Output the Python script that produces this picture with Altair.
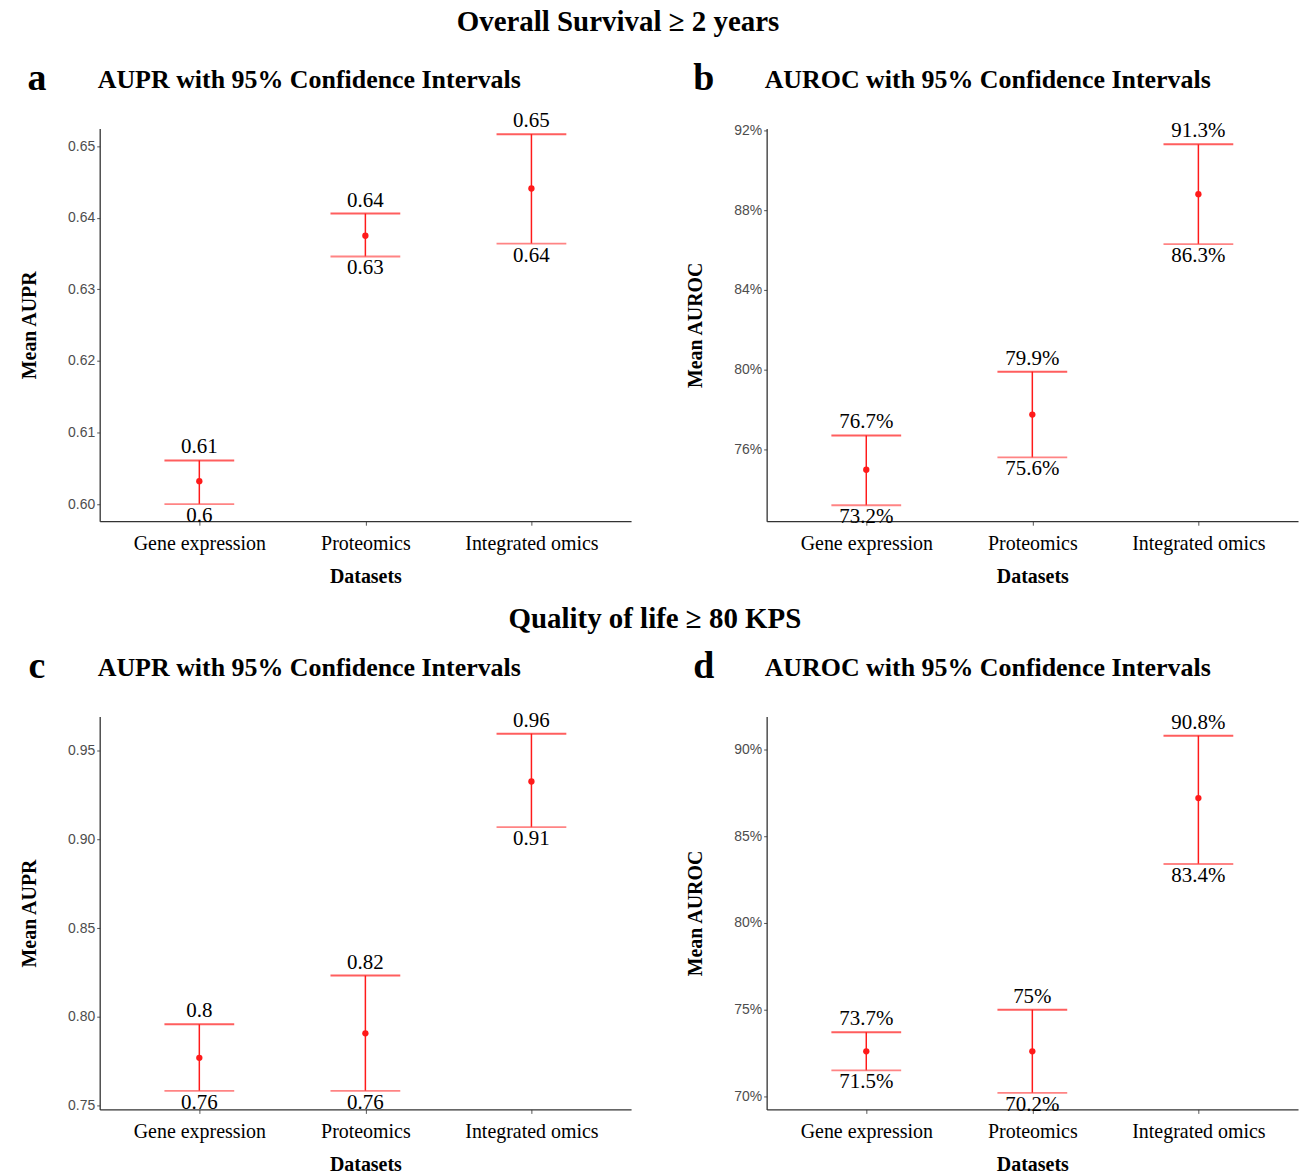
import altair as alt
import pandas as pd

# ---------------- data ----------------
datasets = ["Gene expression", "Proteomics", "Integrated omics"]

os_aupr_mean = [0.6032, 0.6375, 0.6441]
os_aupr_lo = [0.6000, 0.6346, 0.6364]
os_aupr_hi = [0.6061, 0.6406, 0.6517]

os_auroc_mean = [0.7498, 0.7775, 0.8880]
os_auroc_lo = [0.7320, 0.7560, 0.8630]
os_auroc_hi = [0.7670, 0.7990, 0.9130]

qol_aupr_mean = [0.7770, 0.7908, 0.9325]
qol_aupr_lo = [0.7584, 0.7584, 0.9068]
qol_aupr_hi = [0.7959, 0.8233, 0.9594]

qol_auroc_mean = [0.7260, 0.7260, 0.8720]
qol_auroc_lo = [0.7150, 0.7020, 0.8340]
qol_auroc_hi = [0.7370, 0.7500, 0.9080]

os_aupr_ticks = [0.60, 0.61, 0.62, 0.63, 0.64, 0.65]
os_auroc_ticks = [0.76, 0.80, 0.84, 0.88, 0.92]
qol_aupr_ticks = [0.75, 0.80, 0.85, 0.90, 0.95]
qol_auroc_ticks = [0.70, 0.75, 0.80, 0.85, 0.90]

SERIF = "Liberation Serif, Times New Roman, serif"
SANS = "Liberation Sans Narrow, Liberation Sans, Arial, sans-serif"
RED = "#ff1a1a"


def lab_num(v):
    return f"{round(v, 2):g}"


def lab_pct(v):
    return f"{round(v * 100, 1):g}%"


def panel(means, lo, hi, title, ytitle, domain, ticks, fmt, labf, letter):
    df = pd.DataFrame({
        "dataset": datasets,
        "mean": means,
        "lo": lo,
        "hi": hi,
        "lo_label": [labf(v) for v in lo],
        "hi_label": [labf(v) for v in hi],
    })
    xaxis = alt.Axis(title="Datasets", labelAngle=0,
                     labelFont=SERIF, labelFontSize=20,
                     labelColor="black", labelPadding=8,
                     titleFont=SERIF, titleFontSize=20,
                     titleFontWeight="bold", titlePadding=13,
                     tickSize=4, tickColor="#555",
                     domainColor="#333", domainWidth=1.3)
    yaxis = alt.Axis(title=ytitle, values=ticks, format=fmt,
                     labelFont=SANS, labelFontSize=14,
                     labelColor="#4d4d4d", labelPadding=2,
                     tickSize=3, tickColor="#555",
                     titleFont=SERIF, titleFontSize=20,
                     titleFontWeight="bold", titleColor="black",
                     titlePadding=28,
                     domainColor="#333", domainWidth=1.3)
    xenc = alt.X("dataset:N", sort=datasets,
                 scale=alt.Scale(type="point", padding=0.6), axis=xaxis)
    yscale = alt.Scale(domain=domain, nice=False, zero=False)

    def Y(f):
        return alt.Y(f, type="quantitative", scale=yscale, axis=yaxis)

    base = alt.Chart(df)
    rule = base.mark_rule(color=RED, strokeWidth=1.5).encode(
        x=xenc, y=Y("lo"), y2="hi:Q")
    cap_hi = base.mark_tick(color=RED, size=70, thickness=2).encode(
        x=xenc, y=Y("hi"))
    cap_lo = base.mark_tick(color="#ff5050", size=70, thickness=1.8).encode(
        x=xenc, y=Y("lo"))
    pt = base.mark_circle(color=RED, size=40, opacity=1).encode(
        x=xenc, y=Y("mean"))
    t_hi = base.mark_text(font=SERIF, fontSize=21, baseline="bottom",
                          dy=-3, color="black").encode(
        x=xenc, y=Y("hi"), text="hi_label:N")
    t_lo = base.mark_text(font=SERIF, fontSize=21, baseline="top",
                          dy=1, color="black").encode(
        x=xenc, y=Y("lo"), text="lo_label:N")
    head = alt.Chart(pd.DataFrame({"letter": [letter], "title": [title]}))
    let = head.mark_text(
        font=SERIF, fontSize=38, fontWeight="bold", color="black",
        align="center", baseline="middle").encode(
        x=alt.value(-63), y=alt.value(-50), text="letter:N")
    ttl = head.mark_text(
        font=SERIF, fontSize=26, fontWeight="bold", color="black",
        align="left", baseline="middle").encode(
        x=alt.value(-2), y=alt.value(-49), text="title:N")
    return alt.layer(rule, cap_hi, cap_lo, pt, t_hi, t_lo, let, ttl).properties(
        width=533, height=394)


pa = panel(os_aupr_mean, os_aupr_lo, os_aupr_hi,
           "AUPR with 95% Confidence Intervals", "Mean AUPR",
           [0.5976, 0.6525], os_aupr_ticks, ".2f", lab_num, "a")
pb = panel(os_auroc_mean, os_auroc_lo, os_auroc_hi,
           "AUROC with 95% Confidence Intervals", "Mean AUROC",
           [0.724, 0.921], os_auroc_ticks, ".0%", lab_pct, "b")
pc = panel(qol_aupr_mean, qol_aupr_lo, qol_aupr_hi,
           "AUPR with 95% Confidence Intervals", "Mean AUPR",
           [0.748, 0.969], qol_aupr_ticks, ".2f", lab_num, "c")
pd_ = panel(qol_auroc_mean, qol_auroc_lo, qol_auroc_hi,
            "AUROC with 95% Confidence Intervals", "Mean AUROC",
            [0.6925, 0.919], qol_auroc_ticks, ".0%", lab_pct, "d")

row1 = alt.hconcat(pa, pb, spacing=54).properties(
    title=alt.Title("Overall Survival  \u2265 2 years", anchor="middle",
                    font=SERIF, fontSize=29, fontWeight="bold",
                    color="black", dx=-41, offset=23))
row2 = alt.hconcat(pc, pd_, spacing=54).properties(
    title=alt.Title("Quality of life \u2265 80 KPS", anchor="middle",
                    font=SERIF, fontSize=29, fontWeight="bold",
                    color="black", dx=-4, offset=14))

chart = alt.vconcat(row1, row2, spacing=19).properties(
    padding={"left": 19, "top": 6, "right": 5, "bottom": 2},
    background="white",
).configure_view(stroke=None).configure_axis(grid=False)

chart.save("out.html", embed_options={"renderer": "svg", "actions": False})
